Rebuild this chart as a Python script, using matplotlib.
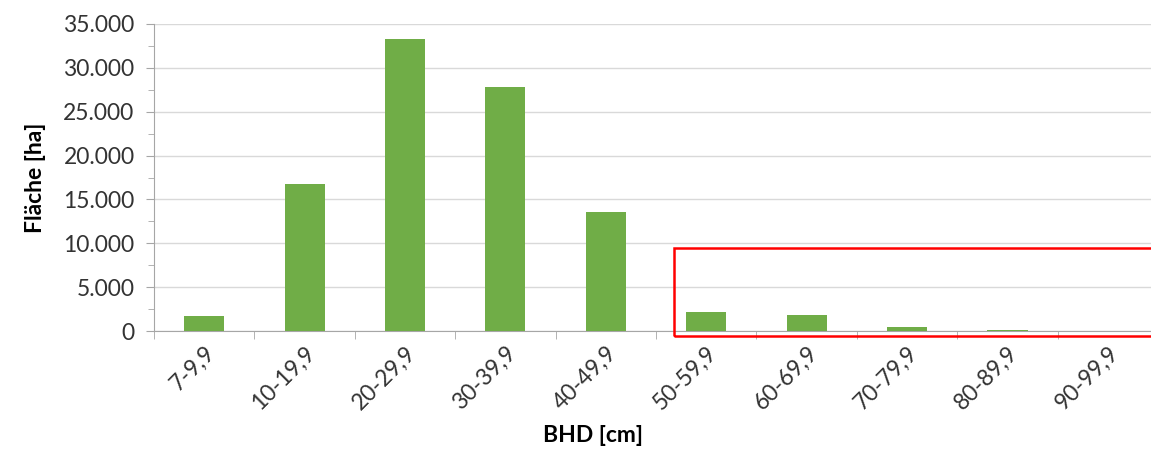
import matplotlib.pyplot as plt
from matplotlib.patches import Rectangle
from matplotlib.ticker import FuncFormatter, MultipleLocator
import numpy as np

plt.rcParams['font.family'] = ['Lato', 'DejaVu Sans']

# Flächenanteile je BHD-Klasse
classes = ["7-9,9", "10-19,9", "20-29,9", "30-39,9", "40-49,9",
           "50-59,9", "60-69,9", "70-79,9", "80-89,9", "90-99,9"]
area_ha = [1700, 16750, 33300, 27800, 13550, 2200, 1850, 450, 150, 30]

fig = plt.figure(figsize=(11.51, 4.5), dpi=100)
ax = fig.add_axes([0.1338, 0.2644, 0.8662, 0.6823])

x = np.arange(len(classes))
ax.bar(x, area_ha, width=0.4, color="#70AD47", zorder=3)

ax.set_xlim(-0.5, len(classes) - 0.57)
ax.set_ylim(0, 35000)

# Achsen im Excel-Stil
for s in ["top", "right"]:
    ax.spines[s].set_visible(False)
for s in ["left", "bottom"]:
    ax.spines[s].set_color("#A6A6A6")
ax.yaxis.grid(True, color="#D9D9D9", linewidth=1)
ax.set_axisbelow(True)

ax.yaxis.set_major_locator(MultipleLocator(5000))
ax.yaxis.set_minor_locator(MultipleLocator(2500))
ax.yaxis.set_major_formatter(FuncFormatter(lambda v, p: f"{int(v):,}".replace(",", ".")))
ax.tick_params(axis="y", which="major", length=6, color="#A6A6A6", labelsize=16.5, labelcolor="#333333", pad=8)
ax.tick_params(axis="y", which="minor", length=4, color="#A6A6A6")

ax.set_xticks(x)
ax.set_xticklabels(classes, rotation=45, ha="right", rotation_mode="anchor")
ax.set_xticks(np.arange(len(classes)) - 0.5, minor=True)
ax.tick_params(axis="x", which="major", length=0, labelsize=16.5, labelcolor="#333333", pad=8)
ax.tick_params(axis="x", which="minor", length=6, color="#A6A6A6")

ax.set_xlabel("BHD [cm]", fontsize=16.5, fontweight="bold")
ax.set_ylabel("Fläche [ha]", fontsize=16.5, fontweight="bold")
ax.xaxis.set_label_coords(0.44, -0.305)
ax.yaxis.set_label_coords(-0.108, 0.5)

# rote Markierung der starken Durchmesser
ax.add_patch(Rectangle((4.68, -560), 5.0, 10000, fill=False, edgecolor="#FF0000",
                       linewidth=1.8, clip_on=False, zorder=4))

fig.savefig("out.png", dpi=100)
